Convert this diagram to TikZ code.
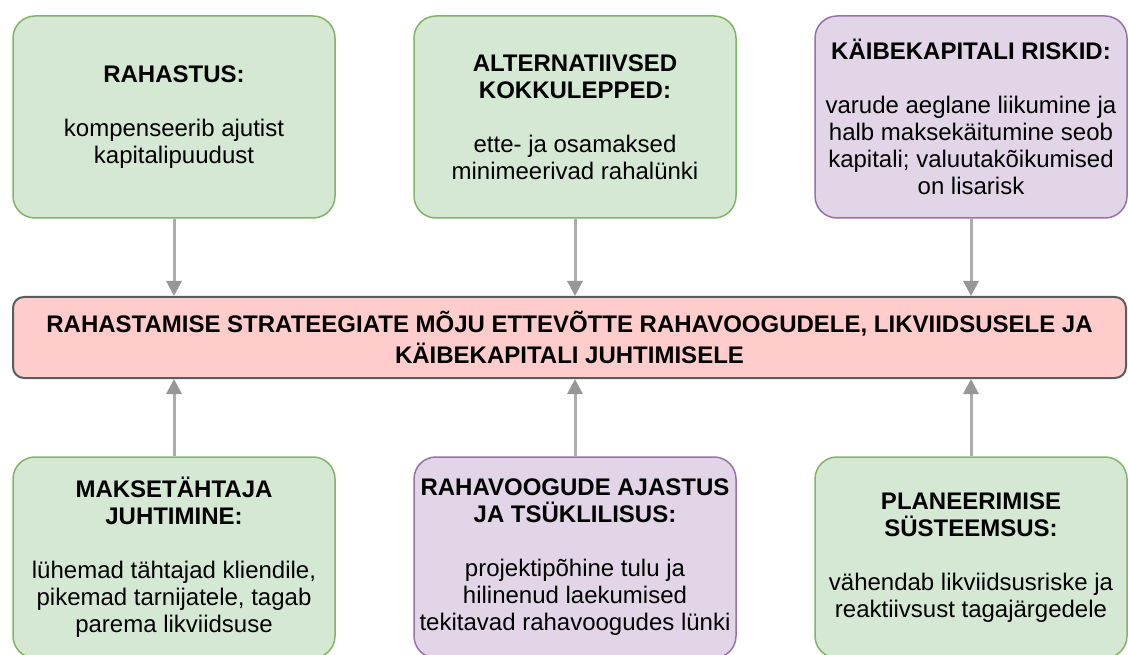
\documentclass[tikz,border=0pt]{standalone}
\usepackage{fontspec}
\setmainfont{Liberation Sans}
\usetikzlibrary{arrows.meta}

\definecolor{greenfill}{HTML}{D5E8D4}
\definecolor{greenline}{HTML}{82B366}
\definecolor{purplefill}{HTML}{E1D5E7}
\definecolor{purpleline}{HTML}{9673A6}
\definecolor{redfill}{HTML}{FFCCCC}
\definecolor{redline}{HTML}{5A5C60}
\definecolor{linkgray}{HTML}{ADADAD}
\definecolor{tipgray}{HTML}{979797}

\tikzset{
  card/.style={rectangle, rounded corners=22pt, line width=1.5pt, inner sep=0pt,
    align=center, font=\fontsize{24}{27}\selectfont, text=black},
  greencard/.style={card, fill=greenfill, draw=greenline},
  purplecard/.style={card, fill=purplefill, draw=purpleline},
  hub/.style={rectangle, rounded corners=11pt, line width=2pt, inner sep=0pt,
    fill=redfill, draw=redline, align=center,
    font=\fontsize{24}{31}\selectfont\bfseries},
  link/.style={draw=linkgray, line width=3pt,
    -{Triangle[length=15pt,width=15pt,color=tipgray]}}
}

\begin{document}
\begin{tikzpicture}[x=1pt, y=-1pt]
  \useasboundingbox (0,0) rectangle (1128,655);
  \clip (0,0) rectangle (1128,655);

  % central topic
  \node[hub, minimum width=1113pt, minimum height=81pt] (main) at (569.5,337.5)
    {RAHASTAMISE STRATEEGIATE MÕJU ETTEVÕTTE RAHAVOOGUDELE, LIKVIIDSUSELE JA\\
     KÄIBEKAPITALI JUHTIMISELE};

  % upper row
  \node[greencard, minimum width=322pt, minimum height=202pt] (fin) at (174,117)
    {\textbf{RAHASTUS:}\\[27pt]kompenseerib ajutist\\kapitalipuudust};
  \node[greencard, minimum width=322pt, minimum height=202pt] (alt) at (575,117)
    {\textbf{ALTERNATIIVSED}\\\textbf{KOKKULEPPED:}\\[27pt]ette- ja osamaksed\\minimeerivad rahalünki};
  \node[purplecard, minimum width=312pt, minimum height=202pt] (risk) at (971,117)
    {\textbf{KÄIBEKAPITALI RISKID:}\\[27pt]varude aeglane liikumine ja\\halb maksekäitumine seob\\kapitali; valuutakõikumised\\on lisarisk};

  % lower row
  \node[greencard, minimum width=322pt, minimum height=201pt] (term) at (174,557.5)
    {\textbf{MAKSETÄHTAJA}\\\textbf{JUHTIMINE:}\\[27pt]lühemad tähtajad kliendile,\\pikemad tarnijatele, tagab\\parema likviidsuse};
  \node[purplecard, minimum width=322pt, minimum height=201pt] (timing) at (575,557.5)
    {\textbf{RAHAVOOGUDE AJASTUS}\\\textbf{JA TSÜKLILISUS:}\\[27pt]projektipõhine tulu ja\\hilinenud laekumised\\tekitavad rahavoogudes lünki};
  \node[greencard, minimum width=312pt, minimum height=201pt] (plan) at (971,557.5)
    {\textbf{PLANEERIMISE}\\\textbf{SÜSTEEMSUS:}\\[27pt]vähendab likviidsusriske ja\\reaktiivsust tagajärgedele};

  % connectors into the central topic
  \draw[link] (fin.south) -- (fin.south |- main.north);
  \draw[link] (alt.south) -- (alt.south |- main.north);
  \draw[link] (risk.south) -- (risk.south |- main.north);
  \draw[link] (term.north) -- (term.north |- main.south);
  \draw[link] (timing.north) -- (timing.north |- main.south);
  \draw[link] (plan.north) -- (plan.north |- main.south);
\end{tikzpicture}
\end{document}
